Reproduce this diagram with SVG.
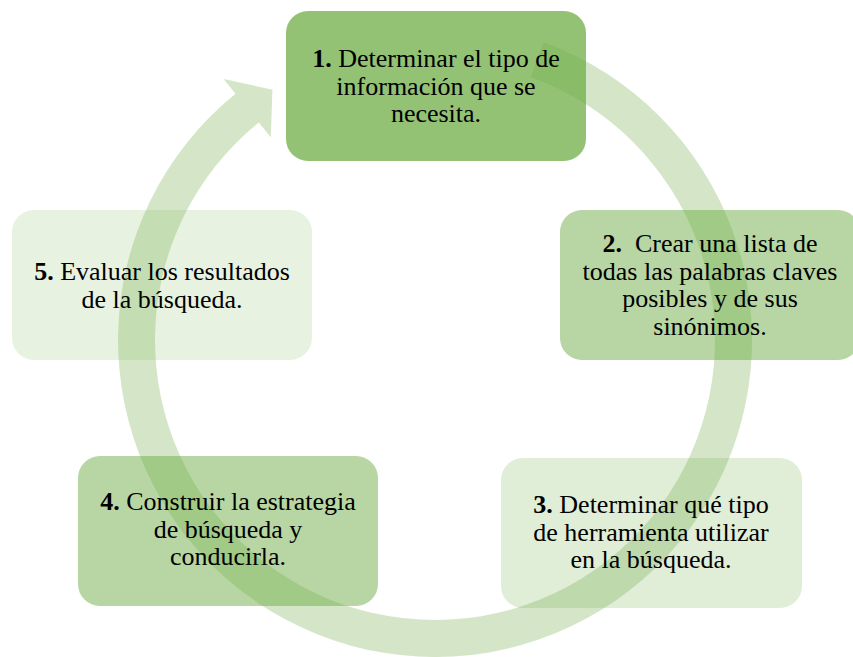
<svg xmlns="http://www.w3.org/2000/svg" width="853" height="657" viewBox="0 0 853 657">
<style>
.box{fill:#70AD47;}
text{font-family:'Liberation Serif','Times New Roman',serif;font-size:26px;fill:#000;text-anchor:middle;}
.b{font-weight:bold;}
</style>
<rect width="853" height="657" fill="#ffffff"/>
<g id="connectors">
<path d="M543.4,42.1 A317,317 0 1 1 235.5,93.7 L223.6,78.9 L272.4,89.7 L270.8,137.2 L258.8,122.4 A280,280 0 1 0 530.8,76.9 Z" fill="#70AD47" fill-opacity="0.3"/>
</g>
<g id="node1">
<rect class="box" x="286" y="11" width="300" height="150" rx="22" fill-opacity="0.75"/>
<text x="436" y="67"><tspan class="b">1.</tspan> Determinar el tipo de</text>
<text x="436" y="94.5">información que se</text>
<text x="436" y="122">necesita.</text>
</g>
<g id="node2">
<rect class="box" x="560" y="210" width="300" height="150" rx="22" fill-opacity="0.5"/>
<text x="710" y="252" xml:space="preserve"><tspan class="b">2.</tspan>  Crear una lista de</text>
<text x="710" y="279.5">todas las palabras claves</text>
<text x="710" y="307">posibles y de sus</text>
<text x="710" y="334.5">sinónimos.</text>
</g>
<g id="node3">
<rect class="box" x="501" y="458" width="301" height="150" rx="22" fill-opacity="0.22"/>
<text x="651" y="513"><tspan class="b">3.</tspan> Determinar qué tipo</text>
<text x="651" y="540.5">de herramienta utilizar</text>
<text x="651" y="568">en la búsqueda.</text>
</g>
<g id="node4">
<rect class="box" x="78" y="456" width="300" height="150" rx="22" fill-opacity="0.5"/>
<text x="228" y="510"><tspan class="b">4.</tspan> Construir la estrategia</text>
<text x="228" y="537.5">de búsqueda y</text>
<text x="228" y="565">conducirla.</text>
</g>
<g id="node5">
<rect class="box" x="12" y="210" width="300" height="150" rx="22" fill-opacity="0.16"/>
<text x="162" y="280"><tspan class="b">5.</tspan> Evaluar los resultados</text>
<text x="162" y="307.5">de la búsqueda.</text>
</g>
</svg>
